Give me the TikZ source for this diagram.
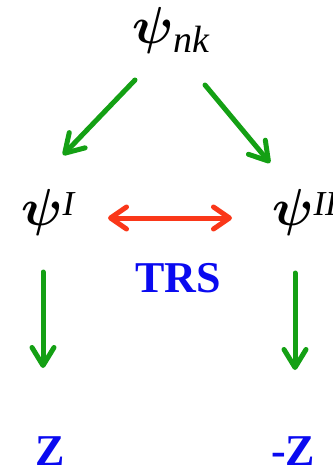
\documentclass[tikz,border=0pt]{standalone}
\usepackage{graphicx}
\usepackage{fontspec}
\setmainfont{Liberation Serif}
\usetikzlibrary{arrows.meta}
\definecolor{arrgreen}{RGB}{20,160,20}
\definecolor{arrred}{RGB}{250,55,25}
\definecolor{lblue}{RGB}{10,10,240}
\newcommand{\bigpsi}{\scalebox{5.2}{\boldmath$\psi$}}
\begin{document}
\begin{tikzpicture}[x=1pt,y=-1pt,
  psitext/.style={inner sep=0pt, font=\itshape},
  bluelabel/.style={inner sep=0pt, text=lblue, font=\fontsize{44}{44}\selectfont\bfseries},
  greenarrow/.style={draw=arrgreen, line width=5pt, line cap=round,
    -{Straight Barb[length=18pt,width=22pt,round]}},
  redarrow/.style={draw=arrred, line width=5pt,
    {Straight Barb[length=16pt,width=22pt,round]}-{Straight Barb[length=16pt,width=22pt,round]}}]
\useasboundingbox (0,0) rectangle (332,473);
\node[psitext, anchor=base west] (top) at (132,44) {\bigpsi\raisebox{-9pt}{\fontsize{38}{38}\selectfont nk}};
\node[psitext, anchor=base west] (left) at (21,225) {\bigpsi\raisebox{10pt}{\fontsize{35}{35}\selectfont I}};
\node[psitext, anchor=base west] (right) at (272,225) {\bigpsi\raisebox{10pt}{\fontsize{35}{35}\selectfont II}};
\node[bluelabel, anchor=base] (trs) at (178,292) {TRS};
\node[bluelabel, anchor=base] (z) at (50,465) {Z};
\node[bluelabel, anchor=base] (mz) at (293,465) {-Z};
\coordinate (a1s) at (135,80);  \coordinate (a1e) at (63,155);
\coordinate (a2s) at (205,85);  \coordinate (a2e) at (270,163);
\coordinate (a3s) at (43,272);  \coordinate (a3e) at (43,368);
\coordinate (a4s) at (295,273); \coordinate (a4e) at (295,370);
\coordinate (r1) at (108,218);  \coordinate (r2) at (232,218);
\draw[greenarrow] (a1s) -- (a1e);
\draw[greenarrow] (a2s) -- (a2e);
\draw[greenarrow] (a3s) -- (a3e);
\draw[greenarrow] (a4s) -- (a4e);
\draw[redarrow] (r1) -- (r2);
\end{tikzpicture}
\end{document}
